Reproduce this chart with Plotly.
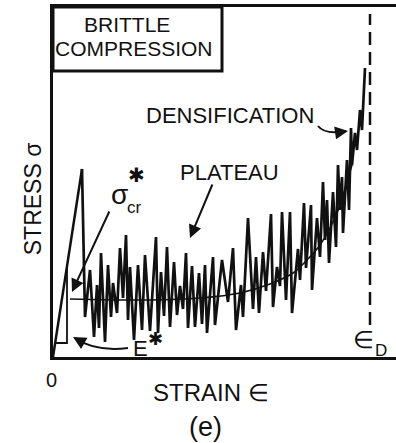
import plotly.graph_objects as go

# Schematic stress-strain curve for brittle foam in compression (arbitrary units)
elastic_strain = [0.0, 0.29]
elastic_stress = [0.0, 1.88]

curve_strain = [0.29, 0.32, 0.37, 0.41, 0.44, 0.46, 0.48, 0.52, 0.55, 0.58, 0.60, 0.64, 0.67, 0.70, 0.73,
                0.75, 0.77, 0.81, 0.85, 0.89, 0.92, 0.97, 1.03, 1.05, 1.08, 1.11, 1.14, 1.17, 1.21, 1.24,
                1.27, 1.30, 1.33, 1.35, 1.39, 1.42, 1.46, 1.49, 1.52, 1.54, 1.60, 1.62, 1.69, 1.75, 1.80,
                1.83, 1.88, 1.90, 1.95, 2.00, 2.03, 2.06, 2.10, 2.13, 2.18, 2.20, 2.24, 2.27, 2.29, 2.33,
                2.37, 2.39, 2.45, 2.47, 2.51, 2.53, 2.58, 2.59, 2.64, 2.67, 2.70, 2.72, 2.74, 2.76, 2.80,
                2.83, 2.85, 2.87, 2.89, 2.90, 2.94, 2.96, 2.98, 2.99, 3.02, 3.04, 3.07, 3.09, 3.12]
curve_stress = [1.88, 0.40, 0.87, 0.20, 0.72, 0.29, 1.04, 0.15, 0.92, 0.40, 0.74, 0.44, 1.09, 0.59, 1.22,
                0.37, 0.90, 0.17, 0.92, 0.27, 1.02, 0.26, 1.20, 0.24, 0.85, 0.41, 1.10, 0.30, 0.95, 0.42,
                0.71, 0.48, 1.04, 0.29, 0.91, 0.30, 0.84, 0.33, 0.92, 0.24, 1.00, 0.32, 0.97, 0.55, 1.09,
                0.27, 0.72, 0.40, 1.39, 0.48, 1.00, 0.44, 1.05, 0.66, 1.43, 0.50, 0.90, 0.71, 1.45, 0.57,
                1.45, 0.44, 1.08, 0.77, 1.54, 0.89, 1.52, 0.67, 1.39, 1.00, 1.75, 1.17, 1.57, 0.94, 1.65,
                1.10, 1.92, 1.47, 1.80, 1.24, 1.97, 1.47, 2.29, 1.92, 2.24, 2.07, 2.47, 2.27, 2.89]

mean_strain = [0.17, 0.97, 1.47, 1.87, 2.17, 2.40, 2.52, 2.67, 2.84, 2.94, 2.99]
mean_stress = [0.58, 0.57, 0.59, 0.64, 0.73, 0.84, 0.95, 1.12, 1.44, 1.75, 1.92]

slope_strain = [0.02, 0.14, 0.14]
slope_stress = [0.14, 0.14, 0.91]

eps_D = 3.17
x_max, y_max = 3.43, 3.50

FONT = "Liberation Sans, Arial, sans-serif"
black = "#111111"

fig = go.Figure()
fig.add_trace(go.Scatter(x=elastic_strain, y=elastic_stress, mode="lines",
                         line=dict(color=black, width=2.5), hoverinfo="skip"))
fig.add_trace(go.Scatter(x=curve_strain, y=curve_stress, mode="lines",
                         line=dict(color=black, width=2.7), hoverinfo="skip"))
fig.add_trace(go.Scatter(x=mean_strain, y=mean_stress, mode="lines", line_shape="spline",
                         line=dict(color=black, width=1.6), hoverinfo="skip"))
fig.add_trace(go.Scatter(x=slope_strain, y=slope_stress, mode="lines",
                         line=dict(color=black, width=1.8), hoverinfo="skip"))
fig.add_trace(go.Scatter(x=[eps_D, eps_D], y=[0.32, 3.43], mode="lines",
                         line=dict(color=black, width=2.5, dash="13px,7px"), hoverinfo="skip"))

# title box
fig.add_shape(type="rect", x0=0, x1=1.69, y0=2.86, y1=y_max, xref="x", yref="y",
              line=dict(color=black, width=3))

# curved arrows (E* and densification)
fig.add_shape(type="path", path="M 0.75,0.09 Q 0.42,0.05 0.22,0.19", xref="x", yref="y",
              line=dict(color=black, width=2))
fig.add_shape(type="path", path="M 2.65,2.31 Q 2.72,2.22 2.93,2.26", xref="x", yref="y",
              line=dict(color=black, width=2))

def arrow(tx, ty, fx, fy, w=2):
    fig.add_annotation(x=tx, y=ty, ax=fx, ay=fy, xref="x", yref="y", axref="x", ayref="y",
                       text="", showarrow=True, arrowhead=2, arrowsize=1.3, arrowwidth=w,
                       arrowcolor=black)

arrow(0.19, 0.65, 0.57, 1.47)      # sigma_cr
arrow(1.37, 1.19, 1.60, 1.74)      # plateau
arrow(0.20, 0.20, 0.27, 0.16)      # E* head
arrow(2.95, 2.26, 2.88, 2.25)      # densification head

def txt(x, y, s, size, xref="x", yref="y", angle=0, family=FONT):
    fig.add_annotation(x=x, y=y, xref=xref, yref=yref, text=s, showarrow=False,
                       textangle=angle, font=dict(family=family, size=size, color=black),
                       xanchor="center", yanchor="middle")

STAR_FONT = "DejaVu Sans, sans-serif"
txt(0.74, 3.33, "BRITTLE", 21)
txt(0.81, 3.09, "COMPRESSION", 21)
txt(1.77, 2.42, "DENSIFICATION", 22)
txt(1.76, 1.85, "PLATEAU", 22)
txt(0.66, 1.63, "σ", 28)
txt(0.83, 1.82, "✱", 20, family=STAR_FONT)
txt(0.81, 1.50, "cr", 17)
txt(0.87, 0.09, "E", 22)
txt(1.02, 0.19, "✱", 18, family=STAR_FONT)
txt(3.10, 0.18, "∈", 24)
txt(3.28, 0.07, "D", 17)

txt(-0.003, -0.066, "0", 20, "paper", "paper")
txt(0.461, -0.10, "STRAIN ∈", 24, "paper", "paper")
txt(0.446, -0.20, "(e)", 27, "paper", "paper")
txt(-0.058, 0.451, "STRESS σ", 23, "paper", "paper", angle=-90)

fig.update_xaxes(range=[0, x_max], showgrid=False, zeroline=False, showticklabels=False, ticks="",
                 showline=True, linecolor=black, linewidth=3, mirror=True)
fig.update_yaxes(range=[0, y_max], showgrid=False, zeroline=False, showticklabels=False, ticks="",
                 showline=True, linecolor=black, linewidth=3)
fig.update_layout(width=396, height=443, margin=dict(l=53, r=0, t=7, b=86),
                  paper_bgcolor="white", plot_bgcolor="white", showlegend=False)

fig.write_html("out.html", config={"displayModeBar": False},
               post_script="document.body.style.margin='0';")
